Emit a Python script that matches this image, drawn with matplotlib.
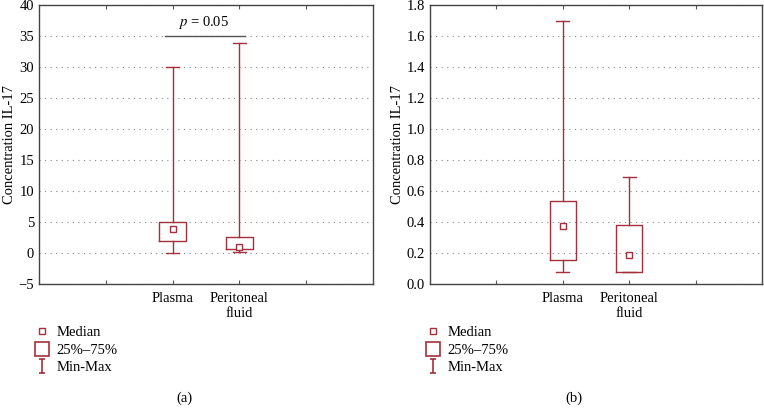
import matplotlib.pyplot as plt
from matplotlib.lines import Line2D
from matplotlib.path import Path

plt.rcParams['font.family'] = ['Liberation Serif', 'DejaVu Serif']
plt.rcParams['font.size'] = 10.5
plt.rcParams['mathtext.fontset'] = 'stix'

groups = ["Plasma", "Peritoneal\nfluid"]

# panel (a)
a_min = [0.0, 0.1]
a_q1 = [2.0, 0.6]
a_med = [3.8, 0.9]
a_q3 = [5.0, 2.5]
a_max = [30.0, 33.9]

# panel (b)
b_min = [0.08, 0.08]
b_q1 = [0.155, 0.08]
b_med = [0.375, 0.19]
b_q3 = [0.535, 0.38]
b_max = [1.70, 0.69]

red = "#a3303b"
fig = plt.figure(figsize=(7.64, 4.19), dpi=100)
ax1 = fig.add_axes([39 / 764, 1 - 284 / 419, 334 / 764, 279 / 419])
ax2 = fig.add_axes([430 / 764, 1 - 284 / 419, 332 / 764, 279 / 419])

# I-shaped marker for min-max legend entry
i_marker = Path([(-0.5, -1), (0.5, -1), (0, -1), (0, 1), (-0.5, 1), (0.5, 1)],
                [Path.MOVETO, Path.LINETO, Path.MOVETO, Path.LINETO, Path.MOVETO, Path.LINETO])


def draw(ax, mins, q1, med, q3, maxs, ylim, yticks, ylabels, label):
    stats = []
    for i in range(len(groups)):
        stats.append(dict(whislo=mins[i], q1=q1[i], med=med[i], q3=q3[i], whishi=maxs[i], fliers=[]))
    ax.bxp(stats, positions=[2, 3], widths=0.4, showfliers=False,
           boxprops=dict(color=red, lw=1.0),
           whiskerprops=dict(color=red, lw=1.0),
           capprops=dict(color=red, lw=1.0),
           medianprops=dict(lw=0), capwidths=0.2)
    ax.plot([2, 3], med, 's', ms=4, mfc='white', mec=red, mew=1.0, ls='none')
    ax.set_xlim(0, 5)
    ax.set_ylim(*ylim)
    ax.set_yticks(yticks)
    ax.set_yticklabels(ylabels)
    ax.set_xticks([1, 2, 3, 4])
    ax.set_xticklabels(["", groups[0], groups[1], ""])
    ax.tick_params(axis='both', direction='in', length=3, color='#555555', top=True, right=False)
    ax.tick_params(axis='y', length=0)
    ax.tick_params(axis='x', pad=6)
    ax.yaxis.grid(True, linestyle=(0, (1, 4)), color='#888888', lw=0.8)
    ax.set_axisbelow(True)
    for s in ax.spines.values():
        s.set_color('#444444')
        s.set_linewidth(1.0)
    ax.set_ylabel("Concentration IL-17", labelpad=2)
    handles = [
        Line2D([], [], marker='s', ms=4, mfc='white', mec=red, ls='none'),
        Line2D([], [], marker='s', ms=10, mfc='white', mec=red, mew=1.2, ls='none'),
        Line2D([], [], marker=i_marker, ms=10, color=red, mew=1.2, ls='none'),
    ]
    ax.legend(handles, ["Median", "25%\u201375%", "Min-Max"], loc='upper left',
              bbox_to_anchor=(-0.03, -0.13), frameon=False, handlelength=1.0,
              handletextpad=0.5, labelspacing=0.3, borderaxespad=0)
    ax.text(0.435, -0.41, label, transform=ax.transAxes, ha='center', va='center')


a_ticks = list(range(-5, 41, 5))
draw(ax1, a_min, a_q1, a_med, a_q3, a_max, (-5, 40), a_ticks,
     ["\u22125"] + [str(v) for v in a_ticks[1:]], "(a)")
b_ticks = [0.0, 0.2, 0.4, 0.6, 0.8, 1.0, 1.2, 1.4, 1.6, 1.8]
draw(ax2, b_min, b_q1, b_med, b_q3, b_max, (0, 1.8), b_ticks,
     ["{:.1f}".format(v) for v in b_ticks], "(b)")

# significance bar
ax1.plot([1.88, 3.08], [35, 35], color='#555555', lw=1.0)
ax1.text(2.47, 35.8, "$p$ = 0.05", ha='center', va='bottom')

fig.savefig("out.png", dpi=100)
